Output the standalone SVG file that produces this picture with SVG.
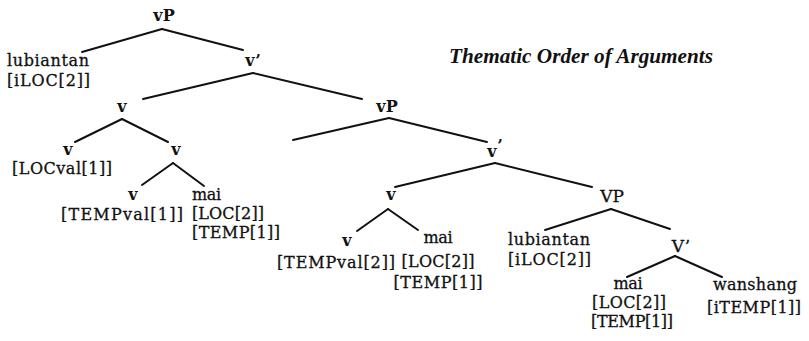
<svg xmlns="http://www.w3.org/2000/svg" width="809" height="341" viewBox="0 0 809 341">
<style>
.n{font-family:"DejaVu Serif","Liberation Serif",serif;font-size:16px;font-weight:bold;fill:#111;text-anchor:middle}
.N{font-family:"DejaVu Serif","Liberation Serif",serif;font-size:17px;fill:#111;stroke:#111;stroke-width:0.3;text-anchor:middle}
.l{font-family:"DejaVu Serif","Liberation Serif",serif;font-size:16px;fill:#111;stroke:#111;stroke-width:0.3}
.c{text-anchor:middle}
.t{font-family:"Liberation Serif",serif;font-size:20px;font-style:italic;font-weight:bold;fill:#111}
line{stroke:#111;stroke-width:2;stroke-linecap:round}
</style>
<rect width="809" height="341" fill="#fff"/>
<g id="connectors">
<line x1="162" y1="29" x2="82" y2="52"/>
<line x1="162" y1="29" x2="243" y2="50"/>
<line x1="253" y1="73" x2="143" y2="99"/>
<line x1="253" y1="73" x2="362" y2="99"/>
<line x1="122" y1="119" x2="75" y2="142"/>
<line x1="122" y1="119" x2="168" y2="142"/>
<line x1="173" y1="163" x2="142" y2="185"/>
<line x1="173" y1="163" x2="204" y2="186"/>
<line x1="389" y1="118" x2="293" y2="140"/>
<line x1="389" y1="118" x2="487" y2="142"/>
<line x1="495" y1="163" x2="395" y2="187"/>
<line x1="495" y1="163" x2="592" y2="187"/>
<line x1="388" y1="209" x2="357" y2="231"/>
<line x1="388" y1="209" x2="418" y2="230"/>
<line x1="611" y1="209" x2="545" y2="230"/>
<line x1="611" y1="209" x2="670" y2="229"/>
<line x1="675" y1="256" x2="627" y2="277"/>
<line x1="675" y1="256" x2="722" y2="277"/>
</g>
<g id="title"><text class="t" x="449" y="63" textLength="264" lengthAdjust="spacingAndGlyphs">Thematic Order of Arguments</text></g>
<g id="vP1"><text class="n" x="164" y="21">vP</text></g>
<g id="lubiantan1"><text class="l" x="7" y="66" textLength="82">lubiantan</text><text class="l" x="7" y="86" textLength="83">[iLOC[2]]</text></g>
<g id="vbar1"><text class="n" x="253" y="66">v’</text></g>
<g id="v1"><text class="n" x="122" y="112">v</text></g>
<g id="vP2"><text class="n" x="387" y="112">vP</text></g>
<g id="v2"><text class="n" x="68" y="155">v</text><text class="l c" x="62" y="174" textLength="100">[LOCval[1]]</text></g>
<g id="v3"><text class="n" x="176" y="155">v</text></g>
<g id="v4"><text class="n" x="133" y="200">v</text><text class="l c" x="122" y="220" textLength="122">[TEMPval[1]]</text></g>
<g id="mai1"><text class="l" x="192" y="200" textLength="29">mai</text><text class="l" x="192" y="219" textLength="72">[LOC[2]]</text><text class="l" x="192" y="238" textLength="88">[TEMP[1]]</text></g>
<g id="vbar2"><text class="n" x="495" y="157">v<tspan dy="-6">’</tspan></text></g>
<g id="v5"><text class="n" x="391" y="200">v</text></g>
<g id="v6"><text class="n" x="347" y="246">v</text><text class="l c" x="336" y="268" textLength="118">[TEMPval[2]]</text></g>
<g id="mai2"><text class="l c" x="438" y="243" textLength="29">mai</text><text class="l c" x="438" y="267" textLength="73">[LOC[2]]</text><text class="l c" x="438" y="288" textLength="89">[TEMP[1]]</text></g>
<g id="VP"><text class="N" x="612" y="202">VP</text></g>
<g id="lubiantan2"><text class="l" x="508" y="245" textLength="82">lubiantan</text><text class="l" x="508" y="265" textLength="83">[iLOC[2]]</text></g>
<g id="Vbar"><text class="N" x="681" y="252">V’</text></g>
<g id="mai3"><text class="l c" x="628" y="289" textLength="29">mai</text><text class="l c" x="629" y="308" textLength="74">[LOC[2]]</text><text class="l c" x="632" y="327" textLength="82">[TEMP[1]]</text></g>
<g id="wanshang"><text class="l c" x="755" y="290" textLength="84">wanshang</text><text class="l c" x="754" y="313" textLength="94">[iTEMP[1]]</text></g>
</svg>
